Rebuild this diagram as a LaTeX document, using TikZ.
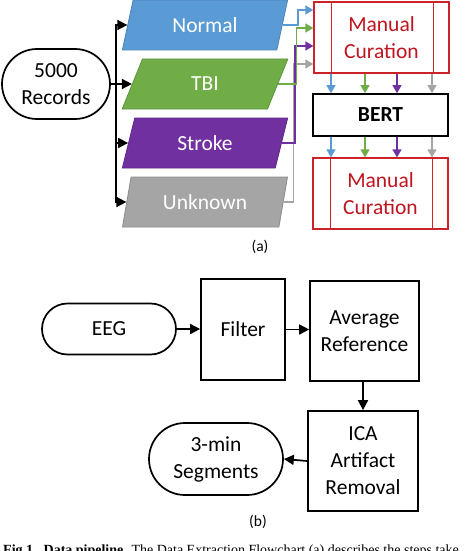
\documentclass[tikz,border=0pt]{standalone}
\usepackage{fontspec}
\setmainfont{Carlito}
\newfontfamily\capfont{Liberation Serif}
\usetikzlibrary{shapes.geometric,shapes.misc,arrows.meta}
\definecolor{cblue}{RGB}{91,155,213}
\definecolor{cgreen}{RGB}{112,173,71}
\definecolor{cpurple}{RGB}{112,48,160}
\definecolor{cgray}{RGB}{165,165,165}
\definecolor{cred}{RGB}{205,35,40}
\definecolor{ctred}{RGB}{192,20,30}
\tikzset{
  lbl/.style={font=\fontsize{21.5}{27}\selectfont, align=center},
  para/.style={trapezium, trapezium left angle=72, trapezium right angle=108,
    trapezium stretches=true, minimum width=166pt, minimum height=50pt,
    inner sep=0pt, lbl, text=white, line width=0.8pt},
  rbox/.style={rounded rectangle, draw, line width=1.7pt, lbl, inner sep=0pt},
  sbox/.style={rectangle, draw, line width=1.7pt, lbl, inner sep=0pt},
  mcbox/.style={rectangle, draw=cred, line width=1.3pt, lbl, text=ctred,
    minimum width=135pt, minimum height=71pt, inner sep=0pt},
  blk/.style={line width=1.7pt, -{Triangle[length=10pt,width=10pt]}},
  carr/.style={line width=1.4pt, -{Triangle[length=8pt,width=9pt]}},
  sublbl/.style={font=\fontsize{15.5}{18}\selectfont},
}
\begin{document}
\begin{tikzpicture}[x=1pt,y=-1pt]
\useasboundingbox (0,0) rectangle (474,551);
\fill[white] (0,0) rectangle (474,551);
% part (a)
\node[rbox, minimum width=108pt, minimum height=70pt] (rec) at (56,84) {5000\\Records};
\node[para, fill=cblue, draw=cblue!85!black] (normal) at (205,25) {Normal};
\node[para, fill=cgreen, draw=cgreen!85!black] (tbi) at (205,84) {TBI};
\node[para, fill=cpurple, draw=cpurple!85!black] (stroke) at (205,143) {Stroke};
\node[para, fill=cgray, draw=cgray!85!black] (unknown) at (205,202) {Unknown};
\node[mcbox] (mc1) at (381.5,37.5) {Manual\\Curation};
\node[sbox, minimum width=135pt, minimum height=42pt, font=\fontsize{21.5}{27}\selectfont\bfseries] (bert) at (380.5,115) {BERT};
\node[mcbox] (mc2) at (380.5,193.5) {Manual\\Curation};
\foreach \n in {mc1,mc2}{
  \draw[cred, line width=1.3pt] ([xshift=18pt]\n.north west) -- ([xshift=18pt]\n.south west);
  \draw[cred, line width=1.3pt] ([xshift=-16pt]\n.north east) -- ([xshift=-16pt]\n.south east);
}
\draw[blk] (rec.east) -- ++(5,0) |- (normal.west);
\draw[blk] (rec.east) -- (tbi.west);
\draw[blk] (rec.east) -- ++(5,0) |- (stroke.west);
\draw[blk] (rec.east) -- ++(5,0) |- (unknown.west);
% into first curation
\draw[carr, cgray] (unknown.east) -| ([xshift=-20pt,yshift=-26.5pt]mc1.west) -- ([yshift=-26.5pt]mc1.west);
\draw[carr, cpurple] (stroke.east) -| ([xshift=-18.5pt,yshift=-8.5pt]mc1.west) -- ([yshift=-8.5pt]mc1.west);
\draw[carr, cgreen] (tbi.east) -| ([xshift=-17pt,yshift=9.5pt]mc1.west) -- ([yshift=9.5pt]mc1.west);
\draw[carr, cblue] (normal.east) -| ([xshift=-15.5pt,yshift=27.5pt]mc1.west) -- ([yshift=27.5pt]mc1.west);
% down arrows
\foreach \dx/\c in {-50.5/cblue,-16.5/cgreen,15.5/cpurple,50.5/cgray}{
  \draw[carr, \c] ([xshift=\dx pt]mc1.south) -- ([xshift=\dx pt+1pt]bert.north);
  \draw[carr, \c] ([xshift=\dx pt+1pt]bert.south) -- ([xshift=\dx pt+1pt]mc2.north);
}
\node[sublbl] (la) at (260,247) {(a)};
% part (b)
\node[rbox, minimum width=134pt, minimum height=51pt] (eeg) at (109,329) {EEG};
\node[sbox, minimum width=84pt, minimum height=101pt] (filter) at (243,329.5) {Filter};
\node[sbox, minimum width=109pt, minimum height=100pt] (avg) at (364.5,331) {Average\\Reference};
\node[sbox, minimum width=110pt, minimum height=100pt] (ica) at (363,461) {ICA\\Artifact\\Removal};
\node[rbox, minimum width=134pt, minimum height=72pt] (seg) at (216,459) {3-min\\Segments};
\draw[blk] (eeg.east) -- (eeg.east -| filter.west);
\draw[blk] (filter.east) -- (filter.east -| avg.west);
\draw[blk] (avg.south -| ica.north) -- (ica.north);
\draw[blk] (ica.west) -- (seg.east);
\node[sublbl] (lb) at (258,522) {(b)};
% caption (cut off by page edge, as in the reference)
\node[anchor=base west, inner sep=0pt, font=\capfont\fontsize{14}{16}\selectfont] (cap) at (3,554)
  {\textbf{Fig 1.\ \ Data pipeline.} The Data Extraction Flowchart (a) describes the steps take};
\end{tikzpicture}
\end{document}
